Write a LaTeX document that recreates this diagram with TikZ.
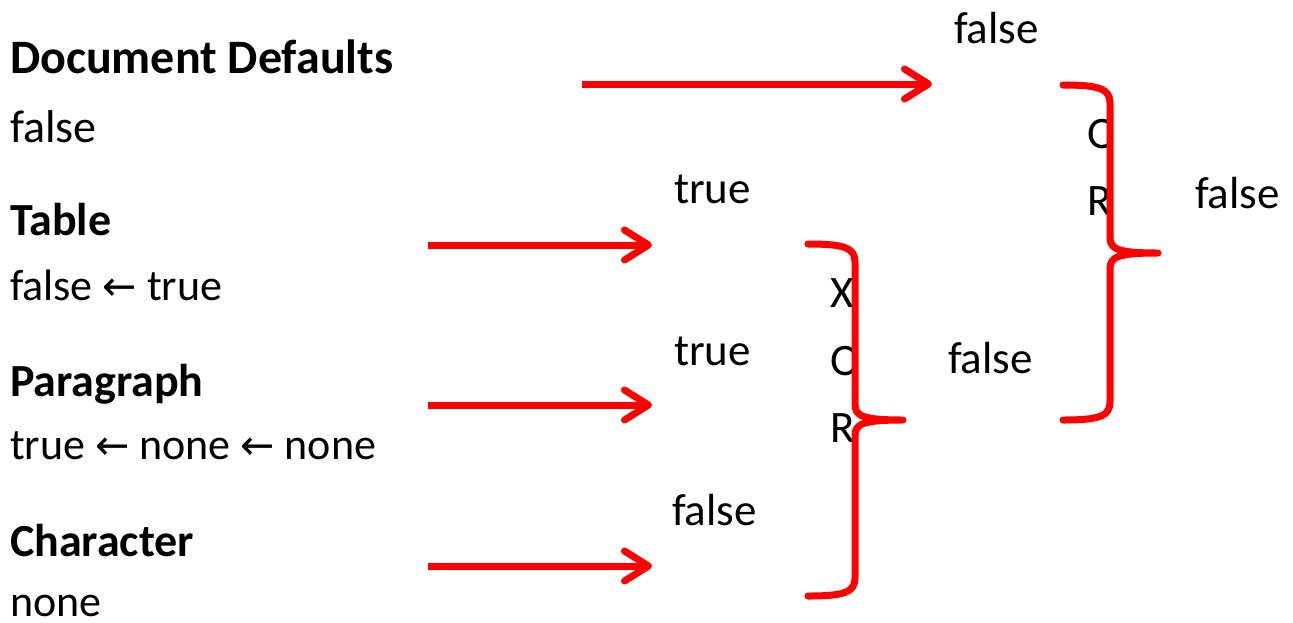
\documentclass[tikz,border=0pt]{standalone}
\usepackage{fontspec}
\setmainfont{Carlito}
\newfontfamily\arrowfont[Scale=0.93]{DejaVu Sans}
\usetikzlibrary{positioning}
\usetikzlibrary{arrows.meta}

\newcommand{\backarr}{{\arrowfont\char"2190}}

\begin{document}
\begin{tikzpicture}[x=1pt, y=-1pt
    , every node/.style={ inner sep=0pt
                        , outer sep=0pt
                        , font=\fontsize{45}{50}\selectfont
                        }
    , head/.style={anchor=base west, font=\fontsize{46}{50}\selectfont\bfseries}
    , val/.style={anchor=base west}
    , chain/.style={anchor=base west, font=\fontsize{44}{50}\selectfont}
    , res/.style={anchor=base west}
    , flow/.style={red, line width=7pt, -{Straight Barb[length=24pt,width=30pt,line cap=round,round]}}
    , curly/.style={red, line width=7pt, line cap=round, line join=round}
    ]

  \useasboundingbox (0,0) rectangle (1293,622);

  % levels on the left
  \node (docdef)   [head, font=\fontsize{48}{52}\selectfont\bfseries] at (10,73) {Document Defaults};
  \node (docval)   [val, font=\fontsize{46}{50}\selectfont] at (10,142) {false};
  \node (table)    [head]  at (10,235) {Table};
  \node (tableval) [chain] at (10,300) {false \backarr{} true};
  \node (para)     [head]  at (10,396) {Paragraph};
  \node (paraval)  [chain] at (10,459) {true \backarr{} none \backarr{} none};
  \node (chr)      [head]  at (10,556) {Character};
  \node (chrval)   [chain, text depth=0pt] at (10,616) {none};

  % values handed on
  \node (docres)   [res] at (954,43)   {false};
  \node (tableres) [res] at (674,203)  {true};
  \node (parares)  [res] at (674,365)  {true};
  \node (chrres)   [res] at (672,525)  {false};
  \node (xorres)   [res] at (948,373)  {false};
  \node (orres)    [res] at (1195,208) {false};

  % operators, cut off by the braces
  \begin{scope}
    \clip (800,260) rectangle (852,460);
    \node (xorx) [res] at (830,307) {X};
    \node (xoro) [res] at (830,375) {O};
    \node (xorr) [res] at (830,442) {R};
  \end{scope}
  \begin{scope}
    \clip (1070,100) rectangle (1106,230);
    \node (oro) [res] at (1087,148) {O};
    \node (orr) [res] at (1087,215) {R};
  \end{scope}

  \coordinate (docfrom)   at (582,84);
  \coordinate (docto)     at (932,84);
  \coordinate (tablefrom) at (428,245);
  \coordinate (tableto)   at (652,245);
  \coordinate (parafrom)  at (428,405);
  \coordinate (parato)    at (652,405);
  \coordinate (chrfrom)   at (428,566);
  \coordinate (chrto)     at (652,566);

  \draw [flow] (docfrom) -- (docto);
  \draw [flow] (tablefrom) -- (tableto);
  \draw [flow] (parafrom) -- (parato);
  \draw [flow] (chrfrom) -- (chrto);

  % braces
  \draw [curly] (808,244) .. controls (845,244) and (855,248) .. (855,262)
    -- (855,404) .. controls (855,416) and (862,420) .. (903,420)
    .. controls (862,420) and (855,424) .. (855,436)
    -- (855,578) .. controls (855,592) and (845,596) .. (808,596);
  \draw [curly] (1063,85) .. controls (1100,85) and (1110,89) .. (1110,103)
    -- (1110,237) .. controls (1110,249) and (1117,253) .. (1158,253)
    .. controls (1117,253) and (1110,257) .. (1110,269)
    -- (1110,402) .. controls (1110,416) and (1100,420) .. (1063,420);

\end{tikzpicture}
\end{document}
